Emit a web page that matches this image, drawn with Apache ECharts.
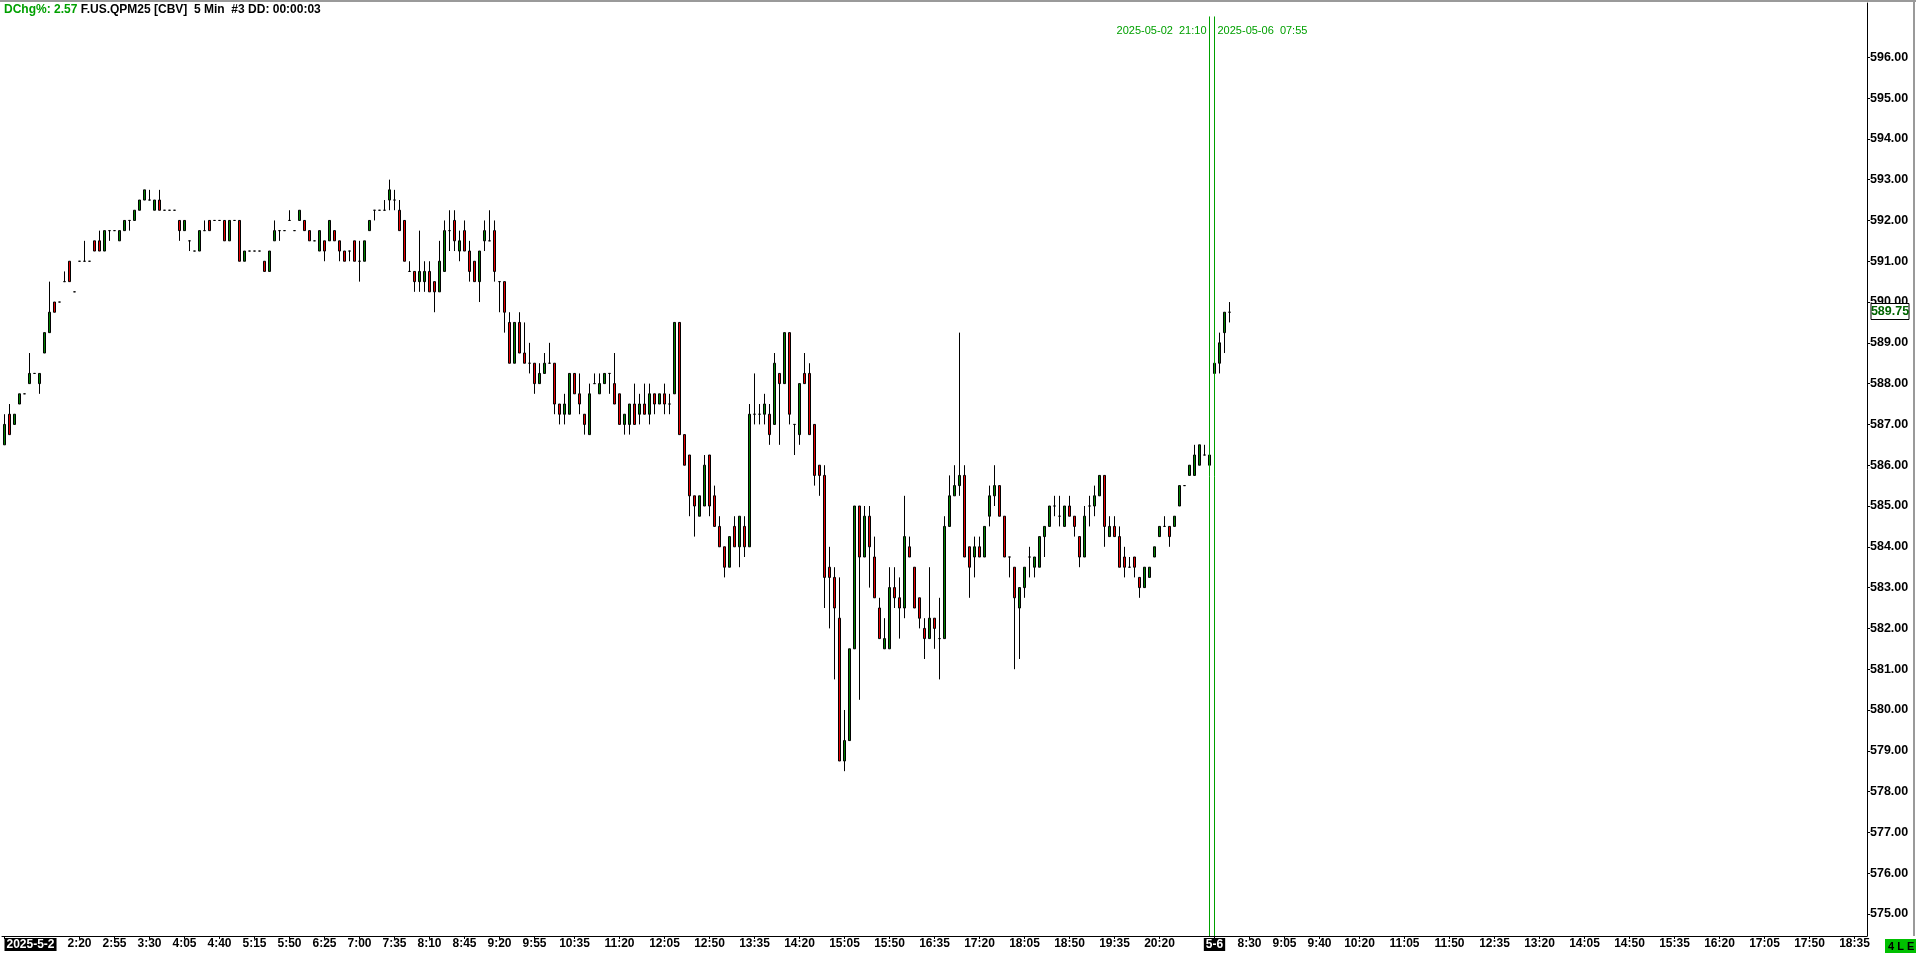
<!DOCTYPE html>
<html>
<head>
<meta charset="utf-8">
<script src="https://cdn.jsdelivr.net/npm/echarts@6/dist/echarts.min.js"></script>
<style>
html,body{margin:0;padding:0;background:#ffffff;overflow:hidden}
#chart{width:1916px;height:953px}
</style>
</head>
<body>
<div id="chart"></div>
<script>
// ---------------- data ----------------
const symbolTitle = 'F.US.QPM25 [CBV]  5 Min  #3 DD: 00:00:03';
const dchgText = 'DChg%: 2.57';
const day1 = { date: '2025-05-02', label: '2025-5-2', start: '1:05', end: '21:10' };
const day2 = { date: '2025-05-06', label: '5-6', start: '7:55', end: '18:45' };
const sessionMarks = ['2025-05-02  21:10', '2025-05-06  07:55'];
const day1Ticks = ['2:20','2:55','3:30','4:05','4:40','5:15','5:50','6:25','7:00','7:35','8:10','8:45','9:20','9:55','10:35','11:20','12:05','12:50','13:35','14:20','15:05','15:50','16:35','17:20','18:05','18:50','19:35','20:20'];
const day2Ticks = ['8:30','9:05','9:40','10:20','11:05','11:50','12:35','13:20','14:05','14:50','15:35','16:20','17:05','17:50','18:35'];
const priceTicks = [575,576,577,578,579,580,581,582,583,584,585,586,587,588,589,590,591,592,593,594,595,596];
const statusText = '4 L E';

const opens = [
586.5,587.25,587.0,587.5,587.75,588.0,588.25,588.0,588.75,589.25,
590.0,590.0,590.5,591.0,590.25,591.0,591.0,591.0,591.5,591.5,
591.25,591.75,591.75,591.5,591.75,592.0,592.0,592.25,592.5,592.5,
592.25,592.5,592.25,592.25,592.25,592.0,591.75,591.5,591.25,591.25,
591.75,592.0,592.0,592.0,592.0,591.5,592.0,592.0,591.0,591.25,
591.25,591.25,591.0,590.75,591.5,591.75,591.75,592.0,591.75,592.0,
592.0,591.75,591.5,591.25,591.5,591.5,591.75,591.5,591.25,591.25,
591.5,591.0,591.0,591.75,592.25,592.25,592.25,592.5,592.5,592.25,
592.0,590.75,590.75,590.5,590.5,590.75,590.5,590.25,590.75,591.75,
592.0,591.25,591.75,591.25,591.0,590.5,591.5,591.5,591.75,590.5,
590.5,589.5,588.5,589.5,588.75,588.5,588.5,588.0,588.25,588.5,
588.5,587.5,587.25,587.25,588.25,587.75,587.25,586.75,588.0,587.75,
588.0,588.25,588.0,587.75,587.0,587.0,587.5,587.25,587.5,587.25,
587.75,587.5,587.75,587.5,587.75,589.5,586.75,586.25,585.25,584.75,
585.0,586.25,585.25,584.5,584.0,583.5,584.5,584.0,584.5,584.0,
587.25,587.25,587.25,587.25,587.0,588.25,588.0,589.25,587.0,586.75,
588.25,588.25,587.0,586.0,585.75,583.5,583.25,582.25,578.75,579.25,
581.5,585.0,583.75,584.75,583.75,582.5,581.5,581.5,583.0,582.75,
582.5,584.0,583.5,582.75,582.0,581.75,582.25,581.75,581.75,584.5,
585.25,585.5,585.75,584.0,583.75,584.0,583.75,584.75,585.25,585.5,
584.75,583.75,583.5,582.5,583.0,583.75,583.5,583.5,584.25,584.5,
585.0,584.75,584.5,585.0,584.75,584.25,583.75,585.0,585.0,585.25,
585.75,584.25,584.5,584.25,583.75,583.5,583.75,583.25,583.0,583.25,
583.75,584.25,584.5,584.5,584.5,585.0,585.5,585.75,585.75,586.0,
586.25,586.0,588.25,588.5,589.25,589.75
];
const closes = [
587.0,586.75,587.25,587.75,587.75,588.25,588.25,588.25,589.25,589.75,
589.75,590.0,590.5,590.5,590.25,591.0,591.0,591.0,591.25,591.25,
591.75,591.75,591.75,591.75,592.0,592.0,592.25,592.5,592.75,592.5,
592.5,592.25,592.25,592.25,592.25,591.75,592.0,591.5,591.25,591.75,
591.75,591.75,592.0,592.0,591.5,592.0,592.0,591.0,591.25,591.25,
591.25,591.25,590.75,591.25,591.75,591.75,591.75,592.0,591.75,592.25,
591.75,591.5,591.5,591.75,591.25,592.0,591.5,591.25,591.0,591.25,
591.0,591.0,591.5,592.0,592.25,592.25,592.25,592.75,592.5,591.75,
591.0,590.75,590.5,590.75,590.75,590.25,590.25,591.0,591.75,591.75,
591.5,591.5,591.25,590.75,590.5,591.25,591.75,591.5,590.75,590.5,
589.75,588.5,589.5,588.75,588.5,588.5,588.0,588.25,588.5,588.5,
587.5,587.25,587.5,588.25,587.75,587.5,587.0,587.75,588.0,588.0,
588.25,588.25,587.5,587.0,587.25,587.5,587.0,587.5,587.25,587.75,
587.5,587.75,587.5,587.5,589.5,586.75,586.0,585.25,585.0,585.25,
586.0,585.0,584.5,584.0,583.5,584.25,584.0,584.75,584.0,587.25,
587.25,587.25,587.5,586.75,588.5,588.0,589.25,587.25,587.0,588.0,
588.0,586.75,585.75,585.75,583.25,583.25,582.5,578.75,579.25,581.5,
585.0,583.75,584.75,584.0,582.75,581.75,581.75,583.0,582.75,582.5,
584.25,583.75,582.5,582.25,581.75,582.25,582.0,581.75,584.5,585.25,
585.5,585.75,583.75,583.5,584.0,583.75,584.5,585.25,585.5,584.75,
583.75,583.75,582.75,583.0,583.5,583.75,583.75,584.25,584.5,585.0,
585.0,584.75,585.0,584.75,584.5,583.75,584.75,585.0,585.25,585.75,
584.5,584.5,584.25,583.5,583.5,583.5,583.5,583.0,583.5,583.5,
584.0,584.5,584.5,584.25,584.75,585.5,585.5,586.0,586.25,586.5,
586.25,586.25,588.5,589.0,589.75,589.75
];
const lows = [
586.5,586.75,587.0,587.5,587.75,588.0,588.25,587.75,588.75,589.25,
589.75,590.0,590.5,590.5,590.25,591.0,591.0,591.0,591.25,591.25,
591.25,591.5,591.75,591.5,591.75,591.75,592.0,592.25,592.5,592.5,
592.25,592.25,592.25,592.25,592.25,591.5,591.75,591.25,591.25,591.25,
591.75,591.75,592.0,592.0,591.5,591.5,592.0,591.0,591.0,591.25,
591.25,591.25,590.75,590.75,591.5,591.5,591.75,592.0,591.75,592.0,
591.75,591.5,591.5,591.25,591.0,591.5,591.5,591.0,591.0,591.0,
591.0,590.5,591.0,591.75,592.0,592.25,592.25,592.25,592.25,591.75,
591.0,590.75,590.25,590.25,590.25,590.25,589.75,590.25,590.75,591.25,
591.25,591.0,591.25,590.5,590.5,590.0,591.25,591.5,590.5,589.75,
589.25,588.5,588.5,588.75,588.5,588.25,587.75,588.0,588.25,588.5,
587.25,587.0,587.0,587.25,587.75,587.25,586.75,586.75,588.0,587.75,
588.0,587.75,587.5,587.0,586.75,586.75,587.0,587.0,587.25,587.0,
587.25,587.5,587.25,587.25,587.75,586.75,586.0,584.75,584.25,584.75,
585.0,584.75,584.5,584.0,583.25,583.5,584.0,583.5,583.75,584.0,
587.0,587.0,587.0,586.5,587.0,586.5,588.0,587.0,586.25,586.5,
588.0,586.75,585.5,585.25,582.5,582.0,580.75,578.75,578.5,579.25,
581.5,580.25,583.75,583.0,582.75,581.75,581.5,581.5,582.5,581.75,
582.25,583.75,582.5,582.0,581.25,581.75,581.5,580.75,581.75,584.5,
585.25,585.25,583.75,582.75,583.25,583.75,583.75,584.5,585.0,584.75,
583.75,583.25,581.0,581.25,582.75,583.25,583.25,583.5,583.75,584.5,
584.75,584.5,584.5,584.75,584.25,583.5,583.75,584.5,584.75,585.25,
584.0,584.25,584.25,583.5,583.25,583.5,583.25,582.75,583.0,583.25,
583.75,584.25,584.5,584.0,584.5,585.0,585.5,585.75,585.75,586.0,
586.25,586.0,588.25,588.25,588.75,589.5
];
const highs = [
587.25,587.5,587.25,587.75,587.75,588.75,588.25,588.25,589.25,590.5,
590.0,590.0,590.75,591.0,590.25,591.0,591.5,591.0,591.5,591.75,
591.75,591.75,591.75,591.75,592.0,592.0,592.25,592.5,592.75,592.75,
592.5,592.75,592.25,592.25,592.25,592.0,592.0,591.5,591.25,591.75,
592.0,592.0,592.0,592.0,592.0,592.0,592.0,592.0,591.25,591.25,
591.25,591.25,591.0,591.25,592.0,591.75,591.75,592.25,591.75,592.25,
592.0,591.75,591.5,591.75,591.5,592.0,591.75,591.5,591.25,591.25,
591.5,591.5,591.5,592.0,592.25,592.25,592.5,593.0,592.75,592.5,
592.0,591.0,590.75,591.75,591.0,591.0,590.5,591.5,592.0,592.25,
592.25,591.75,592.0,591.5,591.0,591.25,592.0,592.25,592.0,590.5,
590.5,589.75,589.5,589.75,589.5,589.0,588.5,588.5,588.75,589.0,
588.5,587.5,587.75,588.25,588.25,588.25,587.25,588.0,588.25,588.25,
588.25,588.25,588.75,587.75,587.25,587.5,588.0,587.75,588.0,588.0,
587.75,587.75,588.0,587.75,589.5,589.5,586.75,586.25,585.25,585.25,
586.25,586.25,585.5,584.75,584.0,584.25,584.75,584.75,584.75,587.5,
588.25,587.5,587.75,587.5,588.75,588.25,589.25,589.25,587.0,588.0,
588.75,588.5,587.0,586.0,586.0,584.0,583.5,583.25,580.0,581.5,
585.0,585.0,585.0,585.0,584.25,582.75,582.25,583.5,583.5,583.25,
585.25,584.25,583.5,582.75,582.25,583.5,582.25,582.75,584.75,585.75,
586.0,589.25,586.0,584.0,584.25,584.25,584.5,585.5,586.0,585.5,
584.75,583.75,583.5,583.0,583.5,584.0,583.75,584.25,584.5,585.0,
585.25,585.25,585.0,585.25,584.75,584.25,585.0,585.25,585.5,585.75,
585.75,584.75,584.75,584.5,584.0,583.75,583.75,583.25,583.5,583.5,
584.0,584.5,584.75,584.5,584.75,585.5,585.5,586.0,586.5,586.5,
586.5,586.25,588.5,589.25,589.75,590.0
];

// ---------------- build categories (5-minute slots) ----------------
function toMin(s){ const p = s.split(':'); return (+p[0]) * 60 + (+p[1]); }
function fmt(m){ return Math.floor(m / 60) + ':' + String(m % 60).padStart(2, '0'); }
const categories = [];
[day1, day2].forEach(function (d) {
  for (let m = toMin(d.start); m <= toMin(d.end); m += 5) {
    categories.push(d.date + ' ' + fmt(m));
  }
});
const tickIndex = {};
const day2First = categories.indexOf(day2.date + ' ' + day2.start);
tickIndex[0] = '{d|' + day1.label + '}';
tickIndex[day2First] = '{d|' + day2.label + '}';
day1Ticks.forEach(function (t) { tickIndex[categories.indexOf(day1.date + ' ' + t)] = t; });
day2Ticks.forEach(function (t) { tickIndex[categories.indexOf(day2.date + ' ' + t)] = t; });

const candleData = opens.map(function (o, i) { return [o, closes[i], lows[i], highs[i]]; });
const lastDay1 = day2First - 1;

const yMin = 574.46, yMax = 597.33;
const lineTop = 597.0;
const lastPrice = closes[closes.length - 1];

const FONT = '"Liberation Sans", Arial, sans-serif';
const GREEN_TXT = '#00a000';

const chart = echarts.init(document.getElementById('chart'), null, { renderer: 'canvas' });
chart.setOption({
  animation: false,
  backgroundColor: '#ffffff',
  grid: { left: 2, right: 49, top: 3, bottom: 17, containLabel: false },
  xAxis: {
    type: 'category',
    data: categories,
    boundaryGap: true,
    axisLine: { show: true, lineStyle: { color: '#000', width: 1 } },
    axisTick: {
      show: true, alignWithLabel: true, length: 3, inside: false,
      lineStyle: { color: '#000', width: 1 },
      interval: function (idx) { return tickIndex[idx] !== undefined; }
    },
    axisLabel: {
      show: true,
      interval: function (idx) { return tickIndex[idx] !== undefined; },
      formatter: function (v, idx) { return tickIndex[idx] || ''; },
      color: '#000', fontFamily: FONT, fontWeight: 'bold', fontSize: 12,
      margin: 2, alignMinLabel: 'left',
      rich: {
        d: { backgroundColor: '#000', color: '#fff', fontFamily: FONT, fontWeight: 'bold', fontSize: 12, padding: [1, 2, 0, 2] }
      }
    },
    splitLine: { show: false }
  },
  yAxis: {
    type: 'value',
    position: 'right',
    min: yMin, max: yMax,
    scale: true,
    axisLine: { show: true, lineStyle: { color: '#000', width: 1 } },
    axisTick: { show: true, length: 3, inside: false, lineStyle: { color: '#000' }, customValues: priceTicks },
    axisLabel: {
      show: true, customValues: priceTicks,
      formatter: function (v) { return v.toFixed(2); },
      color: '#000', fontFamily: FONT, fontWeight: 'bold', fontSize: 12.5, margin: 3
    },
    splitLine: { show: false }
  },
  series: [{
    type: 'candlestick',
    data: candleData,
    barWidth: 2,
    itemStyle: {
      color: '#008000', color0: '#e60000',
      borderColor: '#000', borderColor0: '#000', borderColorDoji: '#000',
      borderWidth: 1
    },
    markLine: {
      silent: true, symbol: ['none', 'none'], animation: false,
      label: { show: false },
      lineStyle: { color: '#00a000', width: 1, type: 'solid', opacity: 1 },
      data: [
        [{ xAxis: categories[lastDay1], yAxis: lineTop }, { xAxis: categories[lastDay1], yAxis: yMin }],
        [{ xAxis: categories[day2First], yAxis: lineTop }, { xAxis: categories[day2First], yAxis: yMin }]
      ]
    }
  }]
});

// texts positioned from the data scales
const p1 = chart.convertToPixel({ gridIndex: 0 }, [categories[lastDay1], lineTop]);
const p2 = chart.convertToPixel({ gridIndex: 0 }, [categories[day2First], lineTop]);
const pp = chart.convertToPixel({ gridIndex: 0 }, [categories[0], lastPrice]);
const rect = chart.getModel().getComponent('grid', 0).coordinateSystem.getRect();
const rightX = rect.x + rect.width;
const bottomY = rect.y + rect.height;

chart.setOption({
  graphic: [
    { type: 'rect', left: 0, top: 0, shape: { width: 1916, height: 2 }, style: { fill: '#9a9a9a' }, silent: true },
    { type: 'rect', x: 1913, y: 0, shape: { width: 2, height: bottomY }, style: { fill: '#9a9a9a' }, silent: true },
    {
      type: 'text', x: 4, y: 10, silent: true,
      style: {
        text: '{g|' + dchgText + '} {b|' + symbolTitle + '}',
        verticalAlign: 'middle',
        rich: {
          g: { fill: GREEN_TXT, font: 'bold 12px ' + FONT },
          b: { fill: '#000', font: 'bold 12px ' + FONT }
        }
      }
    },
    {
      type: 'text', x: p1[0] - 3, y: p1[1] + 15, silent: true,
      style: { text: sessionMarks[0], fill: GREEN_TXT, font: '11px ' + FONT, align: 'right', verticalAlign: 'middle' }
    },
    {
      type: 'text', x: p2[0] + 3, y: p2[1] + 15, silent: true,
      style: { text: sessionMarks[1], fill: GREEN_TXT, font: '11px ' + FONT, align: 'left', verticalAlign: 'middle' }
    },
    {
      type: 'rect', x: rightX + 4, y: Math.round(pp[1]) - 8.5, silent: true, z: 100,
      shape: { width: 38, height: 16 }, style: { fill: '#fff', stroke: '#000', lineWidth: 1 }
    },
    {
      type: 'text', x: rightX + 23, y: Math.round(pp[1]), silent: true, z: 101,
      style: { text: lastPrice.toFixed(2), fill: '#006400', font: 'bold 12.5px ' + FONT, align: 'center', verticalAlign: 'middle' }
    },
    {
      type: 'text', x: 1885, y: bottomY + 3, silent: true, z: 101,
      style: {
        text: statusText, fill: '#000', backgroundColor: '#00c000',
        fontFamily: FONT, fontWeight: 'bold', fontSize: 11,
        padding: [2, 3, 1, 3], align: 'left', verticalAlign: 'top'
      }
    }
  ]
});
</script>
</body>
</html>
